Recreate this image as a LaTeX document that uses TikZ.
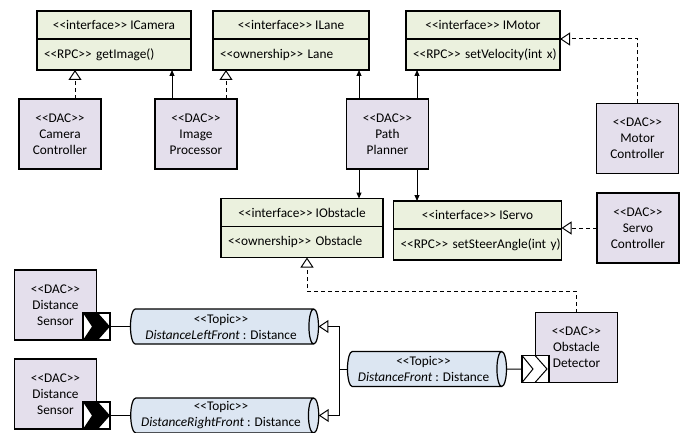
\documentclass[tikz,border=0pt]{standalone}
\usepackage{fontspec}
\setmainfont{Carlito}
\usetikzlibrary{positioning, calc, arrows.meta, shapes.geometric}

\definecolor{ifacegreen}{HTML}{EBF1DE}
\definecolor{dacpurple}{HTML}{E4DFEC}
\definecolor{topicblue}{HTML}{DCE6F2}

\newcommand\stereo[1]{<\kern0pt<#1>\kern0pt>}

\tikzset{
  iface/.style={draw, line width=1.4pt, fill=ifacegreen, inner sep=0, outer sep=0,
                minimum width=#1, minimum height=28pt},
  ifaceop/.style={draw, line width=1.4pt, fill=ifacegreen, outer sep=0, inner ysep=0,
                inner xsep=7pt, text width=#1, align=left, minimum height=31pt},
  dac/.style={draw, line width=1.6pt, fill=dacpurple, minimum width=82pt, minimum height=70pt,
              inner sep=2pt, outer sep=0, align=center},
  topic/.style={cylinder, draw, line width=1.2pt, fill=topicblue, aspect=0.35,
                minimum width=35pt, minimum height=#1, inner sep=1pt, outer sep=0, align=center},
  outport/.style={draw, line width=1.2pt, fill=white, minimum size=27pt, inner sep=0, outer sep=0},
  depline/.style={line width=1pt, -{Triangle[length=6pt,width=5pt]}},
  genline/.style={line width=1pt, -{Triangle[open,length=10pt,width=13pt]}},
  realline/.style={genline, dash pattern=on 4pt off 3pt},
}

\begin{document}
\begin{tikzpicture}[x=1pt, y=-1pt, font=\fontsize{13.3}{16}\selectfont]
  \useasboundingbox (0,0) rectangle (688,433);

  % interfaces
  \node(icam)[iface=154pt] at (114,25) {\stereo{interface} ICamera};
  \node(icamop)[ifaceop=140pt, below=0pt of icam] {\mbox{\stereo{RPC} getImage()}};
  \node(ilane)[iface=156pt] at (291,25) {\stereo{interface} ILane};
  \node(ilaneop)[ifaceop=142pt, below=0pt of ilane] {\mbox{\stereo{ownership} Lane}};
  \node(imot)[iface=154pt] at (483,25) {\stereo{interface} IMotor};
  \node(imotop)[ifaceop=140pt, below=0pt of imot] {\mbox{\stereo{RPC} setVelocity(int x)}};
  \node(iobs)[iface=162pt] at (302,212.5) {\stereo{interface} IObstacle};
  \node(iobsop)[ifaceop=148pt, below=0pt of iobs] {\mbox{\stereo{ownership} Obstacle}};
  \node(iservo)[iface=168pt] at (477.5,215) {\stereo{interface} IServo};
  \node(iservoop)[ifaceop=154pt, below=0pt of iservo] {\mbox{\stereo{RPC} setSteerAngle(int y)}};

  % components
  \node(cc)[dac] at (60,134) {\stereo{DAC}\\Camera\\Controller};
  \node(ip)[dac] at (196,134) {\stereo{DAC}\\Image\\Processor};
  \node(pp)[dac] at (387.5,134) {\stereo{DAC}\\Path\\Planner};
  \node(mc)[dac] at (637.5,138.5) {\stereo{DAC}\\Motor\\Controller};
  \node(sc)[dac] at (638,228) {\stereo{DAC}\\Servo\\Controller};
  \node(ds1)[dac] at (55.5,305) {\stereo{DAC}\\Distance\\Sensor};
  \node(ds2)[dac] at (55.5,394) {\stereo{DAC}\\Distance\\Sensor};
  \node(od)[dac] at (576.5,347.5) {\stereo{DAC}\\Obstacle\\Detector};

  % topics
  \node(t1)[topic=188pt] at (221,326.5) {\stereo{Topic}\\\textit{DistanceLeftFront} : Distance};
  \node(t2)[topic=188pt] at (221,415.5) {\stereo{Topic}\\\textit{DistanceRightFront} : Distance};
  \node(t3)[topic=159pt] at (423.5,369) {\stereo{Topic}\\\textit{DistanceFront} : Distance};

  % ports
  \node(p1)[outport, anchor=south] at (ds1.south east) {};
  \node(p2)[outport, anchor=south] at (ds2.south east) {};
  \node(op)[outport, anchor=south] at (od.south west) {};
  \foreach \p in {p1,p2}
    \fill (\p.north west) -- ([xshift=15pt]\p.north west) -- (\p.east)
      -- ([xshift=15pt]\p.south west) -- (\p.south west) -- ([xshift=9pt]\p.west) -- cycle;
  \draw[line width=1pt] (op.north west) -- ([xshift=11pt]op.west) -- (op.south west)
    ([xshift=13pt]op.north west) -- ([xshift=-2pt]op.east) -- ([xshift=13pt]op.south west);

  % connectors
  \draw[realline] ([xshift=15pt]cc.north) -- ([xshift=15pt]cc.north |- icamop.south);
  \draw[depline] ([xshift=-24pt]ip.north) -- ([xshift=-24pt]ip.north |- icamop.south);
  \draw[realline] ([xshift=30pt]ip.north) -- ([xshift=30pt]ip.north |- ilaneop.south);
  \draw[depline] ([xshift=-28.5pt]pp.north) -- ([xshift=-28.5pt]pp.north |- ilaneop.south);
  \draw[depline] ([xshift=29.5pt]pp.north) -- ([xshift=29.5pt]pp.north |- imotop.south);
  \draw[depline] ([xshift=-28.5pt]pp.south) -- ([xshift=-28.5pt]pp.south |- iobs.north);
  \draw[depline] ([xshift=29.5pt]pp.south) -- ([xshift=29.5pt]pp.south |- iservo.north);
  \draw[realline] (mc.north) |- (imot.south east);
  \draw[realline] (sc.west) -- (sc.west -| iservo.east);
  \draw[realline] (od.north) -- ++(0,-21) -| ([xshift=5pt]iobsop.south);

  \draw[line width=1pt] (p1.east) -- (t1.west);
  \draw[line width=1pt] (p2.east) -- (t2.west);
  \draw[line width=1pt] (t3.east) -- (op.west);
  \coordinate(jn) at ([xshift=-8pt]t3.west);
  \draw[genline] (t3.west) -- (jn) |- (t1.east);
  \draw[genline] (jn) |- (t2.east);
\end{tikzpicture}
\end{document}
